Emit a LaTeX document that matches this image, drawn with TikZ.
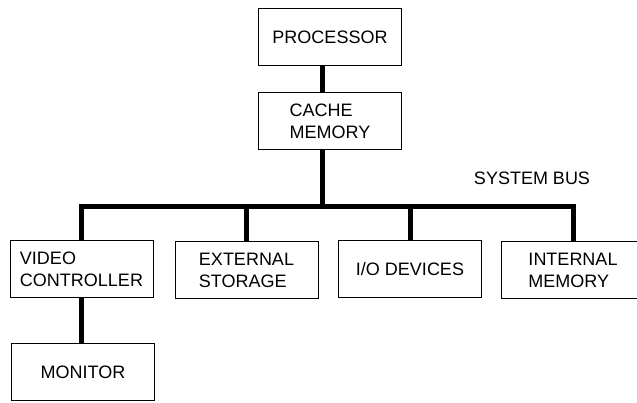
\documentclass[tikz,border=0pt]{standalone}
\usepackage{fontspec}
\setmainfont{Liberation Sans}
\begin{document}
\begin{tikzpicture}[x=1pt, y=-1pt,
        unit/.style={draw, line width=1pt, minimum width=143pt, minimum height=57pt, inner sep=0pt, align=left, font=\fontsize{18}{22}\selectfont},
        bus/.style={line width=5pt}]
    \useasboundingbox (0, 0) rectangle (637, 403);
    \clip (0, 0) rectangle (637, 403);
    \node [unit] (proc) at (330, 37.5) {PROCESSOR};
    \node [unit] (cache) at (330, 121.5) {CACHE\\MEMORY};
    \node [unit] (video) at (81.5, 269) {VIDEO\\CONTROLLER};
    \node [unit] (extstore) at (246.5, 270) {EXTERNAL\\STORAGE};
    \node [unit] (iodev) at (410, 269) {I/O DEVICES};
    \node [unit] (intmem) at (573, 270.5) {INTERNAL\\MEMORY};
    \node [unit] (monitor) at (83, 372) {MONITOR};
    \node [font=\fontsize{18}{22}\selectfont] (buslabel) at (532, 178) {SYSTEM BUS};
    \coordinate (bus) at (322, 207);
    \draw [bus] ([xshift=-8pt]proc.south) -- ([xshift=-8pt]cache.north);
    \draw [bus] ([xshift=-8pt]cache.south) -- (bus);
    \draw [bus] (video.north) |- (bus) -| (intmem.north);
    \draw [bus] (bus -| extstore.north) -- (extstore.north);
    \draw [bus] (bus -| iodev.north) -- (iodev.north);
    \draw [bus] (video.south) -- (video.south |- monitor.north);
\end{tikzpicture}
\end{document}
